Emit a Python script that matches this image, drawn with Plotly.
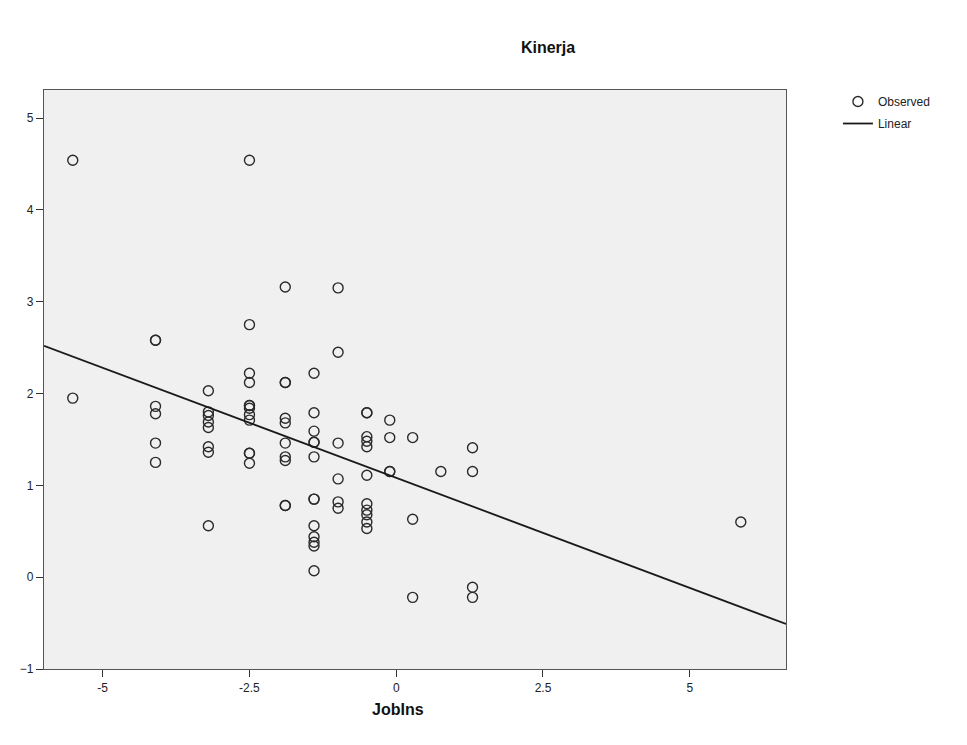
import plotly.graph_objects as go

# ---- data ----
job_ins = (
    [-5.51] * 2
    + [-4.10] * 6
    + [-3.20] * 8
    + [-2.50] * 12
    + [-1.89] * 10
    + [-1.40] * 13
    + [-0.99] * 6
    + [-0.50] * 11
    + [-0.11] * 4
    + [0.28] * 3
    + [0.76] * 1
    + [1.30] * 4
    + [5.87] * 1
)
kinerja = (
    [4.54, 1.95]
    + [2.58, 2.58, 1.86, 1.78, 1.46, 1.25]
    + [2.03, 1.80, 1.76, 1.69, 1.63, 1.42, 1.36, 0.56]
    + [4.54, 2.75, 2.22, 2.12, 1.87, 1.87, 1.84, 1.77, 1.71, 1.35, 1.35, 1.24]
    + [3.16, 2.12, 2.12, 1.73, 1.68, 1.46, 1.31, 1.27, 0.78, 0.78]
    + [2.22, 1.79, 1.59, 1.47, 1.47, 1.31, 0.85, 0.85, 0.56, 0.44, 0.38, 0.34, 0.07]
    + [3.15, 2.45, 1.46, 1.07, 0.82, 0.75]
    + [1.79, 1.79, 1.53, 1.48, 1.42, 1.11, 0.80, 0.73, 0.68, 0.60, 0.53]
    + [1.71, 1.52, 1.15, 1.15]
    + [1.52, 0.63, -0.22]
    + [1.15]
    + [1.41, 1.15, -0.11, -0.22]
    + [0.60]
)

fit_intercept = 1.082
fit_slope = -0.2397
fit_x = [-6.0, 6.64]
fit_y = [fit_intercept + fit_slope * v for v in fit_x]

x_ticks = [-5, -2.5, 0, 2.5, 5]
x_tick_text = ["-5", "-2.5", "0", "2.5", "5"]
y_ticks = [-1, 0, 1, 2, 3, 4, 5]

FONT = "Liberation Sans, Arial, sans-serif"
OFF = 8  # page body margin offset

PL, PT, PW, PH = 41.7, 90, 744, 579  # plot area in page pixels

fig = go.Figure()
fig.add_trace(go.Scatter(
    x=job_ins, y=kinerja, mode="markers", name="Observed", legendgroup="a",
    marker=dict(symbol="circle-open", size=10, color="#2a2a2a",
                line=dict(width=1.4, color="#2a2a2a")),
))
fig.add_trace(go.Scatter(
    x=fit_x, y=fit_y, mode="lines", name="Linear", legendgroup="b",
    line=dict(color="#1a1a1a", width=1.8),
))

ml = round(PL - OFF)
mt = round(PT - OFF)
fig.update_layout(
    width=967, height=745,
    margin=dict(l=ml, r=967 - ml - PW, t=mt, b=745 - mt - PH),
    paper_bgcolor="white",
    plot_bgcolor="#F0F0F0",
    font=dict(family=FONT, size=12, color="#222"),
    title=dict(text="<b>Kinerja</b>", x=(548 - OFF) / 967, xanchor="center",
               y=1 - (47 - OFF) / 745, yanchor="middle", yref="container",
               font=dict(family=FONT, size=16, color="#111")),
    showlegend=True,
    legend=dict(x=1.07, xanchor="left", y=1 + 3 / PH, yanchor="top",
                bgcolor="rgba(0,0,0,0)", font=dict(family=FONT, size=12, color="#222"),
                tracegroupgap=3, itemwidth=30),
    xaxis=dict(range=[-6.0, 6.64], tickvals=x_ticks, ticktext=x_tick_text,
               showgrid=False, zeroline=False, showline=True, mirror=True,
               linecolor="#555", linewidth=1.2, ticks="outside", ticklen=7,
               tickcolor="#333", tickfont=dict(family=FONT, size=12, color="#222")),
    yaxis=dict(range=[-1.0, 5.305], tickvals=y_ticks,
               showgrid=False, zeroline=False, showline=True, mirror=True,
               linecolor="#555", linewidth=1.2, ticks="outside", ticklen=7,
               tickcolor="#333", tickfont=dict(family=FONT, size=12, color="#222")),
    annotations=[dict(text="<b>JobIns</b>", xref="paper", yref="paper",
                      x=(397 - PL) / PW, y=(669 - 709) / PH,
                      xanchor="center", yanchor="middle", showarrow=False,
                      font=dict(family=FONT, size=16, color="#111"))],
)

fig.write_html("out.html")
